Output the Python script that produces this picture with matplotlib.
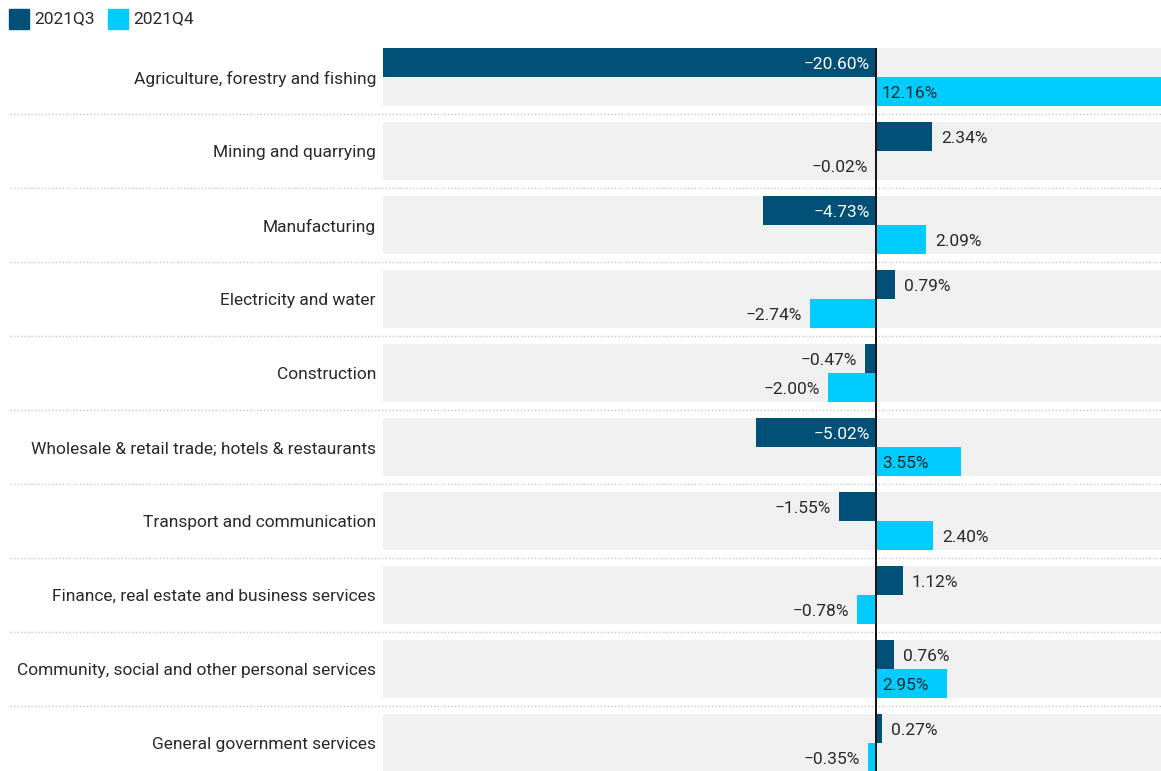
import matplotlib
matplotlib.use("Agg")
import matplotlib.pyplot as plt
from matplotlib.patches import Rectangle
from matplotlib.transforms import blended_transform_factory

plt.rcParams['font.family'] = ['Roboto', 'DejaVu Sans']

sectors = [
    "Agriculture, forestry and fishing",
    "Mining and quarrying",
    "Manufacturing",
    "Electricity and water",
    "Construction",
    "Wholesale & retail trade; hotels & restaurants",
    "Transport and communication",
    "Finance, real estate and business services",
    "Community, social and other personal services",
    "General government services",
]
q3 = [-20.60, 2.34, -4.73, 0.79, -0.47, -5.02, -1.55, 1.12, 0.76, 0.27]
q4 = [12.16, -0.02, 2.09, -2.74, -2.00, 3.55, 2.40, -0.78, 2.95, -0.35]
series = [("2021Q3", q3), ("2021Q4", q4)]

c_q3 = "#004f76"
c_q4 = "#00ccff"
c_text = "#2a2a2a"
c_bg = "#f0f0f0"
fs = 12.5

W, H = 1161, 771
fig = plt.figure(figsize=(W / 100, H / 100), dpi=100)
ax = fig.add_axes([383 / W, 0, 1 - 383 / W, 1 - 48 / H])

half = 0.392          # half height of a sector block
bar_h = half          # each bar fills half of the block
ax.set_xlim(-20.6, 11.91)
ax.set_ylim(9.378, -half)
ax.axis("off")

n = len(sectors)
for i in range(n):
    ax.axhspan(i - half, i + half, color=c_bg, lw=0, zorder=0)

# figure-x / data-y transform for things living left of the axes
side_tr = blended_transform_factory(fig.transFigure, ax.transData)

# dotted separators run from the left margin to the right edge
for i in range(n - 1):
    ax.plot([10 / W, 1], [i + 0.5, i + 0.5], transform=side_tr, color="#c8c8c8",
            lw=1, ls=(0, (1, 1.5)), clip_on=False, zorder=1)

px = 1 / 23.93  # data units per pixel along x
dy = 1.5 / 74   # nudge text down a touch so it sits optically centred
for k, (name, vals) in enumerate(series):
    color = c_q3 if k == 0 else c_q4
    ys = [i - half / 2 + k * bar_h for i in range(n)]
    ax.barh(ys, vals, height=bar_h, color=color, lw=0, zorder=2)
    for y, v in zip(ys, vals):
        label = f"{v:.2f}%".replace("-", "\u2212")
        inside = abs(v) > 2.85
        if inside:
            tc = "white" if k == 0 else c_text
            if v >= 0:
                x, ha = 6 * px, "left"
            else:
                x, ha = -6 * px, "right"
        else:
            tc = c_text
            if v >= 0:
                x, ha = v + 9 * px, "left"
            else:
                x, ha = v - 8 * px, "right"
        ax.text(x, y + dy, label, ha=ha, va="center", fontsize=fs, color=tc, zorder=4)

ax.axvline(0, color="#111111", lw=1.4, zorder=3)

# sector names to the left of the plot
for i, s in enumerate(sectors):
    fig.text(376 / W, i + dy, s, transform=side_tr, ha="right", va="center",
             fontsize=fs, color=c_text)

# legend
for x0, (name, _), color in [(9, series[0], c_q3), (108, series[1], c_q4)]:
    fig.patches.append(Rectangle((x0 / W, 1 - 29 / H), 20 / W, 20 / H,
                                 transform=fig.transFigure, color=color))
    fig.text((x0 + 25) / W, 1 - 19 / H, name, ha="left", va="center",
             fontsize=fs, color=c_text)

fig.savefig("out.png", dpi=100, facecolor="white")
